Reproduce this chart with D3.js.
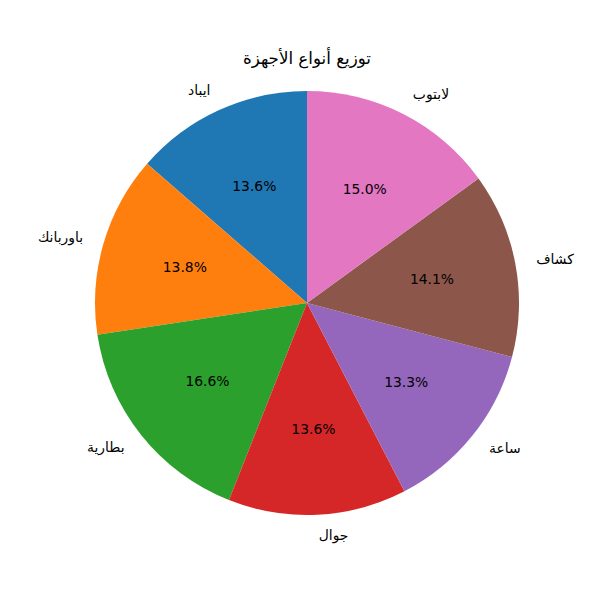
<!DOCTYPE html>
<html><head><meta charset="utf-8">
<script src="https://cdn.jsdelivr.net/npm/d3@7"></script>
<style>body{margin:0;background:#fff}</style>
</head><body>
<svg id="chart" width="600" height="600"></svg>
<script>
const categories = ["ايباد", "باوربانك", "بطارية", "جوال", "ساعة", "كشاف", "لابتوب"];
const values = [13.6, 13.8, 16.6, 13.6, 13.3, 14.1, 15.0];
const colors = ["#1f77b4", "#ff7f0e", "#2ca02c", "#d62728", "#9467bd", "#8c564b", "#e377c2"];
const title = "توزيع أنواع الأجهزة";

const W = 600, H = 600, cx = 307, cy = 303, R = 212;
const svg = d3.select("#chart");
const font = "DejaVu Sans, sans-serif";

svg.append("rect").attr("width", W).attr("height", H).attr("fill", "#fff");

const total = d3.sum(values);
const angle = d3.scaleLinear().domain([0, total]).range([0, -2 * Math.PI]);
let cum = 0;
const slices = values.map((v, i) => {
  const s = { i, value: v, a0: angle(cum), a1: angle(cum + v) };
  cum += v;
  return s;
});

const arc = d3.arc().innerRadius(0).outerRadius(R);
const g = svg.append("g").attr("transform", `translate(${cx},${cy})`);

g.selectAll("path").data(slices).join("path")
  .attr("d", d => arc({ startAngle: d.a1, endAngle: d.a0 }))
  .attr("fill", d => colors[d.i]);

function pos(d, k) {
  const m = (d.a0 + d.a1) / 2;
  return [k * R * Math.sin(m), -k * R * Math.cos(m)];
}

g.selectAll("text.pct").data(slices).join("text")
  .attr("class", "pct")
  .attr("x", d => pos(d, 0.6)[0])
  .attr("y", d => pos(d, 0.6)[1] - 1)
  .attr("text-anchor", "middle")
  .attr("dominant-baseline", "central")
  .attr("font-family", font).attr("font-size", 13.9).attr("fill", "#000")
  .text(d => d3.format(".1f")(d.value / total * 100) + "%");

g.selectAll("text.lbl").data(slices).join("text")
  .attr("class", "lbl")
  .attr("x", d => pos(d, 1.1)[0])
  .attr("y", d => pos(d, 1.1)[1] - 1)
  .attr("text-anchor", d => pos(d, 1.1)[0] > 0 ? "start" : "end")
  .attr("direction", "ltr")
  .attr("dominant-baseline", "central")
  .attr("font-family", font).attr("font-size", 13.9).attr("fill", "#000")
  .text(d => categories[d.i]);

svg.append("text")
  .attr("x", cx).attr("y", 58)
  .attr("text-anchor", "middle")
  .attr("dominant-baseline", "central")
  .attr("font-family", font).attr("font-size", 16.7).attr("fill", "#000")
  .text(title);
</script>
</body></html>
